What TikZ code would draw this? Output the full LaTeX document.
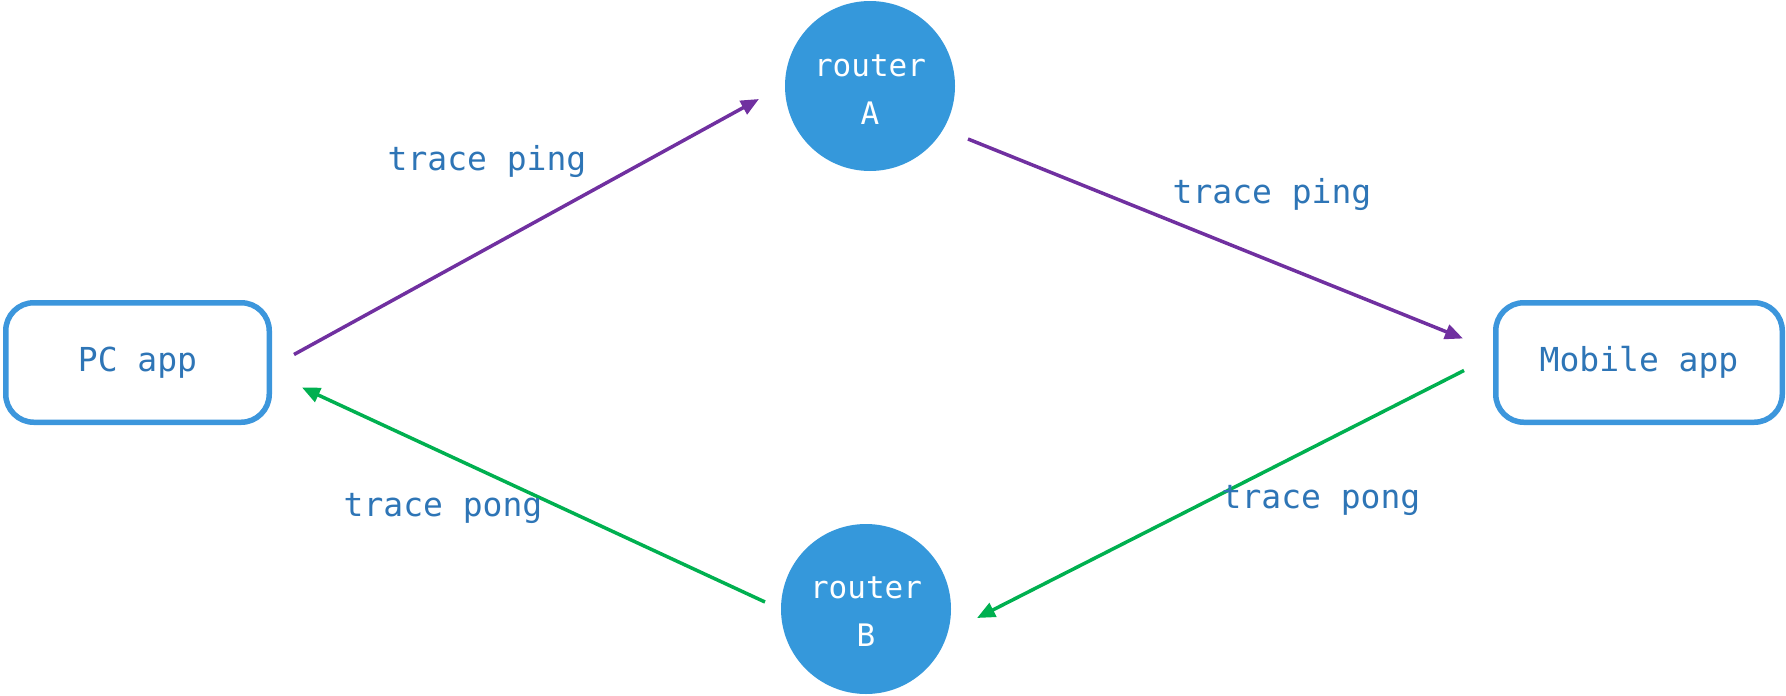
\documentclass[tikz,border=0pt]{standalone}
\usepackage{fontspec}
\usetikzlibrary{arrows.meta}
\newfontfamily\monofnt{DejaVu Sans Mono}
\definecolor{boxblue}{RGB}{60,150,220}
\definecolor{circblue}{RGB}{53,152,219}
\definecolor{txtblue}{RGB}{46,117,182}
\definecolor{pingpurple}{RGB}{112,48,160}
\definecolor{ponggreen}{RGB}{0,176,80}
\tikzset{
  appbox/.style={draw=boxblue, line width=5.5pt, rounded corners=28pt, fill=white,
    minimum height=119.5pt, inner sep=0pt, text=txtblue,
    font=\monofnt\fontsize{33}{40}\selectfont},
  router/.style={circle, fill=circblue, minimum size=170pt, inner sep=0pt, text=white,
    align=center, font=\monofnt\fontsize{31}{48}\selectfont},
  lbl/.style={text=txtblue, font=\monofnt\fontsize{33}{40}\selectfont, inner sep=0pt},
  ping/.style={draw=pingpurple, line width=3.5pt, -{Triangle[length=18pt,width=15pt]}},
  pong/.style={draw=ponggreen, line width=3.5pt, -{Triangle[length=18pt,width=15pt]}},
}
\begin{document}
\begin{tikzpicture}[x=1pt,y=-1pt]
\useasboundingbox (0,0) rectangle (1786,696);
\node[appbox, minimum width=263.5pt] (pc) at (137.5,362.5) {PC app};
\node[appbox, minimum width=286.5pt] (mob) at (1639,362.5) {Mobile app};
\node[router] (A) at (870,86) {};
\node[router] (B) at (866,609) {};
\node[router, fill=none, minimum size=0pt] (At) at (870,90) {router\\A};
\node[router, fill=none, minimum size=0pt] (Bt) at (866,612) {router\\B};
\draw[ping] ([shift={(22,-8)}]pc.east) -- ([shift={(-111,13)}]A.center);
\draw[ping] ([shift={(98,53)}]A.center) -- ([shift={(-30,-24)}]mob.west);
\draw[pong] ([shift={(-29,8)}]mob.west) -- ([shift={(111,9)}]B.center);
\draw[pong] ([shift={(-101,-7)}]B.center) -- ([shift={(30,25)}]pc.east);
\node[lbl] (l1) at (487,162) {trace ping};
\node[lbl] (l2) at (1272,195) {trace ping};
\node[lbl] (l3) at (443,508) {trace pong};
\node[lbl] (l4) at (1321,500) {trace pong};
\end{tikzpicture}
\end{document}
